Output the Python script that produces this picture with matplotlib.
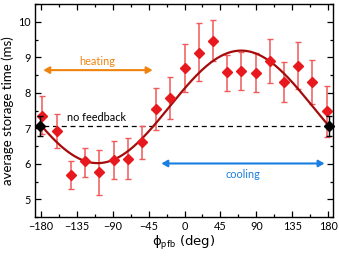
import numpy as np
import matplotlib
matplotlib.use("Agg")
import matplotlib.pyplot as plt
from matplotlib.ticker import MultipleLocator

plt.rcParams['font.family'] = ['Lato', 'DejaVu Sans']
plt.rcParams['mathtext.fontset'] = 'custom'
plt.rcParams['mathtext.rm'] = 'Lato'
plt.rcParams['mathtext.it'] = 'Lato:italic'

# data: feedback phase (deg) vs average storage time (ms)
phase = [-178.0, -160.2, -142.4, -124.6, -106.8, -89.0, -71.2, -53.4, -35.6, -17.8,
         0.0, 17.8, 35.6, 53.4, 71.2, 89.0, 106.8, 124.6, 142.4, 160.2, 178.0]
storage = [7.36, 6.93, 5.69, 6.07, 5.76, 6.11, 6.15, 6.61, 7.54, 7.86,
           8.69, 9.13, 9.47, 8.59, 8.61, 8.57, 8.89, 8.30, 8.76, 8.31, 7.48]
err_upper = [0.55, 0.47, 0.40, 0.39, 0.64, 0.52, 0.57, 0.46, 0.59, 0.60,
             0.69, 0.83, 0.58, 0.49, 0.53, 0.54, 0.63, 0.57, 0.67, 0.61, 0.72]
err_lower = [0.52, 0.47, 0.39, 0.44, 0.64, 0.54, 0.58, 0.47, 0.58, 0.59,
             0.67, 0.80, 0.57, 0.53, 0.54, 0.55, 0.62, 0.55, 0.66, 0.62, 0.72]

nofb_phase = [-181.0, 181.0]
nofb_storage = [7.07, 7.07]
nofb_err = [0.28, 0.28]
nofb_level = 7.07

# sinusoidal fit parameters
fit_offset = 7.605
fit_amp = 1.585
fit_phase = 71.0

fig = plt.figure(figsize=(3.39, 2.56), dpi=100)
ax = fig.add_axes([0.103, 0.152, 0.879, 0.832])

ax.axhline(nofb_level, color='black', lw=0.9, ls=(0, (4, 3)), zorder=1)

ax.errorbar(phase, storage, yerr=[err_lower, err_upper], fmt='none',
            ecolor='#f05a5a', elinewidth=1.1, capsize=2.2, capthick=1.0, zorder=2)
ax.plot(phase, storage, ls='none', marker='D', ms=5, color='#e8191e', zorder=4)

ax.errorbar(nofb_phase, nofb_storage, yerr=nofb_err, fmt='D', ms=5.5,
            color='black', ecolor='black', elinewidth=1.0, capsize=2.2, zorder=5,
            clip_on=False)

xf = np.linspace(-180, 180, 400)
yf = fit_offset + fit_amp * np.cos(np.deg2rad(xf - fit_phase))
ax.plot(xf, yf, color='#a50b0b', lw=1.6, zorder=3)

# heating / cooling arrows
ax.annotate('', xy=(-40, 8.64), xytext=(-177, 8.64),
            arrowprops=dict(arrowstyle='<|-|>,head_length=0.35,head_width=0.2',
                            color='#f0820f', lw=1.5, shrinkA=0, shrinkB=0))
ax.text(-109, 8.72, 'heating', color='#f0820f', fontsize=7.8, ha='center', va='bottom')

ax.annotate('', xy=(175.5, 6.01), xytext=(-29, 6.01),
            arrowprops=dict(arrowstyle='<|-|>,head_length=0.35,head_width=0.2',
                            color='#1a7fe0', lw=1.5, shrinkA=0, shrinkB=0))
ax.text(73, 5.86, 'cooling', color='#1a7fe0', fontsize=7.8, ha='center', va='top')

ax.text(-110, 7.15, 'no feedback', color='black', fontsize=7.8, ha='center', va='bottom')

ax.set_xlim(-187.5, 186)
ax.set_ylim(4.5, 10.5)
ax.set_xticks([-180, -135, -90, -45, 0, 45, 90, 135, 180])
ax.set_yticks([5, 6, 7, 8, 9, 10])
ax.xaxis.set_minor_locator(MultipleLocator(22.5))
ax.yaxis.set_minor_locator(MultipleLocator(0.5))
ax.tick_params(which='both', direction='in', top=True, right=True, labelsize=7.8,
               width=0.9, pad=3)
ax.tick_params(which='major', length=4)
ax.tick_params(which='minor', length=2.5)
for s in ax.spines.values():
    s.set_linewidth(1.0)

ax.set_xlabel('\u03d5' + r'$_{\mathrm{pfb}}$ (deg)', fontsize=9.5, labelpad=1,
              family=['DejaVu Sans', 'Lato'])
ax.set_ylabel('average storage time (ms)', fontsize=9.5, labelpad=3)

fig.savefig('out.png', dpi=100)
